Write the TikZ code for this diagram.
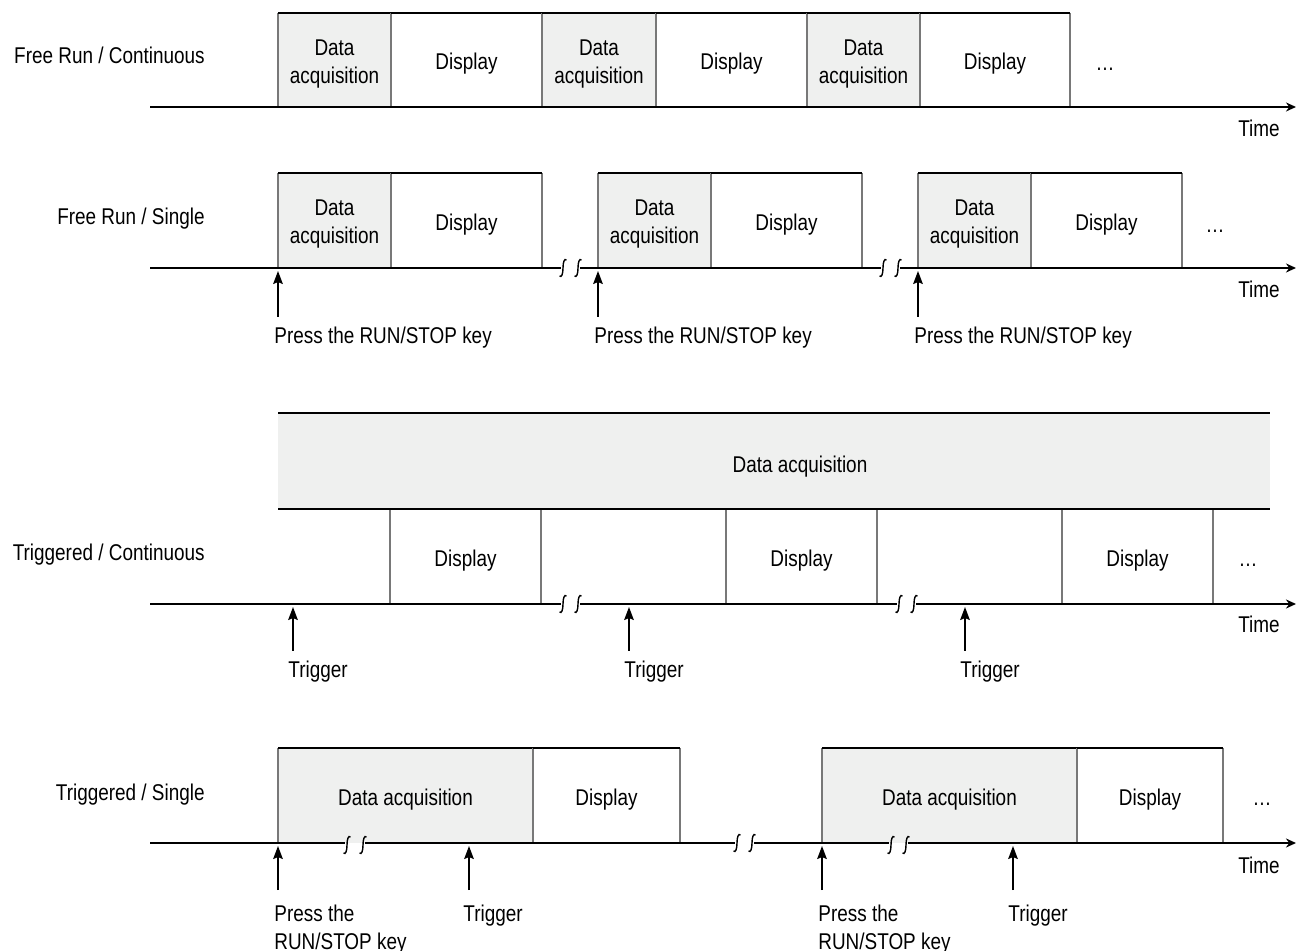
\documentclass[tikz,border=0pt]{standalone}
\usepackage{fontspec}
\setmainfont{Liberation Sans}[FakeStretch=0.83]
\usetikzlibrary{arrows.meta}
\definecolor{dafill}{RGB}{239,240,239}
\definecolor{vgray}{RGB}{120,120,120}
\newcommand\tlseg[7]{%
  \node[seg, fill=#6, minimum width={(#3-#2)*0.5pt}, minimum height={(#5-#4)*0.5pt},
        label={[seglbl]center:{#7}}] (#1) at ({(#2+#3)/2},{(#4+#5)/2}) {};
  \draw[vline] (#1.north west) -- (#1.south west);
  \draw[vline] (#1.north east) -- (#1.south east);
  \draw[hline] (#1.north west) -- (#1.north east);
}
\newcommand\brkmark[2]{%
  \draw[brk] (#1+3.5,#2-8) .. controls (#1+1.5,#2-10) and (#1,#2-6) .. (#1,#2) .. controls (#1,#2+6) and (#1-1.5,#2+10) .. (#1-3.5,#2+8);
}
\begin{document}
\begin{tikzpicture}[x=0.5pt,y=-0.5pt, font=\fontsize{11.4pt}{14pt}\selectfont,
  seg/.style={inner sep=0pt, outer sep=0pt},
  seglbl/.style={inner sep=0pt, align=center, yshift=-2pt},
  hline/.style={line width=0.75pt, black},
  vline/.style={line width=0.75pt, vgray},
  axis/.style={line width=1pt, -{Stealth[length=5pt,width=4.5pt]}},
  axisseg/.style={line width=1pt},
  uparrow/.style={line width=0.9pt, -{Stealth[length=6.5pt,width=4.8pt,inset=1pt]}},
  brk/.style={line width=0.7pt},
  lbl/.style={inner sep=0pt, anchor=base east},
  note/.style={inner sep=0pt, anchor=base west, align=left},
  dots/.style={inner sep=0pt, anchor=base},
]
\useasboundingbox (0,0) rectangle (1296,951);

% ---------- Row 1: Free Run / Continuous
\tlseg{r1a}{278}{391}{13}{107}{dafill}{Data\\acquisition}
\tlseg{r1b}{391}{542}{13}{107}{white}{Display}
\tlseg{r1c}{542}{656}{13}{107}{dafill}{Data\\acquisition}
\tlseg{r1d}{656}{807}{13}{107}{white}{Display}
\tlseg{r1e}{807}{920}{13}{107}{dafill}{Data\\acquisition}
\tlseg{r1f}{920}{1070}{13}{107}{white}{Display}
\node[dots] (r1dots) at (1105,71) {…};
\draw[axis] (150,107) -- (1296,107);
\node[lbl] (r1lab) at (205,64) {Free Run / Continuous};
\node[lbl] (r1time) at (1280,137) {Time};

% ---------- Row 2: Free Run / Single
\tlseg{r2a}{278}{391}{173}{268}{dafill}{Data\\acquisition}
\tlseg{r2b}{391}{542}{173}{268}{white}{Display}
\tlseg{r2c}{598}{711}{173}{268}{dafill}{Data\\acquisition}
\tlseg{r2d}{711}{862}{173}{268}{white}{Display}
\tlseg{r2e}{918}{1031}{173}{268}{dafill}{Data\\acquisition}
\tlseg{r2f}{1031}{1182}{173}{268}{white}{Display}
\node[dots] (r2dots) at (1215,233) {…};
\draw[axisseg] (150,268) -- (561,268);
\draw[axisseg] (580,268) -- (881,268);
\draw[axis] (900,268) -- (1296,268);
\brkmark{563}{268}\brkmark{578}{268}\brkmark{883}{268}\brkmark{898}{268}
\node[lbl] (r2lab) at (205,225) {Free Run / Single};
\node[lbl] (r2time) at (1280,298) {Time};
\node[note] (p1) at (274,344) {Press the RUN/STOP key};
\node[note] (p2) at (594,344) {Press the RUN/STOP key};
\node[note] (p3) at (914,344) {Press the RUN/STOP key};
\coordinate (p1b) at (278,317); \coordinate (p1t) at (278,271);
\coordinate (p2b) at (598,317); \coordinate (p2t) at (598,271);
\coordinate (p3b) at (918,317); \coordinate (p3t) at (918,271);
\draw[uparrow] (p1b) -- (p1t);
\draw[uparrow] (p2b) -- (p2t);
\draw[uparrow] (p3b) -- (p3t);

% ---------- Row 3: Triggered / Continuous
\tlseg{r3d1}{390}{541}{509}{604}{white}{Display}
\tlseg{r3d2}{726}{877}{509}{604}{white}{Display}
\tlseg{r3d3}{1062}{1213}{509}{604}{white}{Display}
\node[seg, fill=dafill, minimum width=496pt, minimum height=48pt] (r3big) at (774,461) {};
\draw[hline] (r3big.north west) -- (r3big.north east);
\draw[hline] (r3big.south west) -- (r3big.south east);
\node (r3text) at (800,467) {Data acquisition};
\node[dots] (r3dots) at (1248,567) {…};
\draw[axisseg] (150,604) -- (561,604);
\draw[axisseg] (580,604) -- (897,604);
\draw[axis] (916,604) -- (1296,604);
\brkmark{563}{604}\brkmark{578}{604}\brkmark{899}{604}\brkmark{914}{604}
\node[lbl] (r3lab) at (205,561) {Triggered / Continuous};
\node[lbl] (r3time) at (1280,633) {Time};
\node[note] (t1) at (288,677) {Trigger};
\node[note] (t2) at (624,677) {Trigger};
\node[note] (t3) at (960,677) {Trigger};
\coordinate (t1b) at (293,651); \coordinate (t1t) at (293,607);
\coordinate (t2b) at (629,651); \coordinate (t2t) at (629,607);
\coordinate (t3b) at (965,651); \coordinate (t3t) at (965,607);
\draw[uparrow] (t1b) -- (t1t);
\draw[uparrow] (t2b) -- (t2t);
\draw[uparrow] (t3b) -- (t3t);

% ---------- Row 4: Triggered / Single
\tlseg{r4a}{278}{533}{748}{843}{dafill}{Data acquisition}
\tlseg{r4b}{533}{680}{748}{843}{white}{Display}
\tlseg{r4c}{822}{1077}{748}{843}{dafill}{Data acquisition}
\tlseg{r4d}{1077}{1223}{748}{843}{white}{Display}
\node[dots] (r4dots) at (1262,805) {…};
\draw[axisseg] (150,843) -- (345,843);
\draw[axisseg] (365,843) -- (735,843);
\draw[axisseg] (754,843) -- (889,843);
\draw[axis] (908,843) -- (1296,843);
\brkmark{347}{845}\brkmark{363}{845}\brkmark{737}{843}\brkmark{752}{843}\brkmark{891}{845}\brkmark{906}{845}
\node[lbl] (r4lab) at (205,800) {Triggered / Single};
\node[lbl] (r4time) at (1280,873) {Time};
\node[note] (q1) at (274,949) {Press the\\RUN/STOP key};
\node[note] (q2) at (463,921) {Trigger};
\node[note] (q3) at (818,949) {Press the\\RUN/STOP key};
\node[note] (q4) at (1008,921) {Trigger};
\coordinate (q1b) at (278,890); \coordinate (q1t) at (278,846);
\coordinate (q2b) at (469,890); \coordinate (q2t) at (469,846);
\coordinate (q3b) at (822,890); \coordinate (q3t) at (822,846);
\coordinate (q4b) at (1013,890); \coordinate (q4t) at (1013,846);
\draw[uparrow] (q1b) -- (q1t);
\draw[uparrow] (q2b) -- (q2t);
\draw[uparrow] (q3b) -- (q3t);
\draw[uparrow] (q4b) -- (q4t);
\end{tikzpicture}
\end{document}
